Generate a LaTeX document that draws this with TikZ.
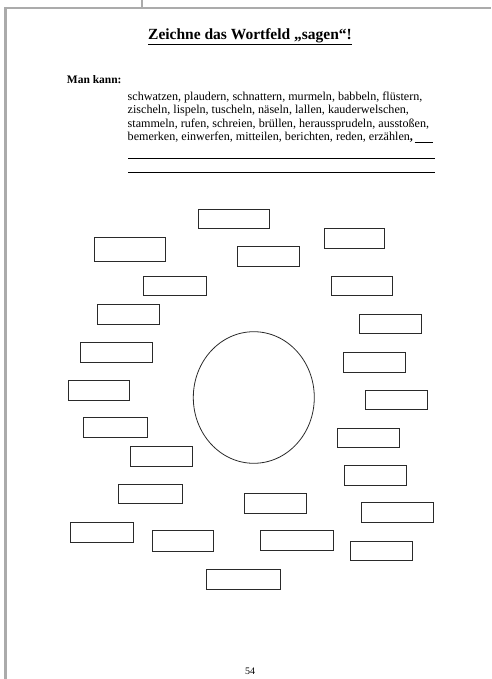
\documentclass[tikz,border=0pt]{standalone}
\usepackage{fontspec}
\setmainfont{Liberation Serif}
\usetikzlibrary{calc,shapes.geometric}
\definecolor{frame}{HTML}{ABABAB}
\definecolor{pen}{HTML}{2A2A2A}
\tikzset{
  frameline/.style={draw=frame, line width=2.3pt},
  wordbox/.style={draw=pen, line width=1pt, inner sep=0pt, outer sep=0pt},
  centreoval/.style={draw=pen, line width=0.8pt, ellipse, inner sep=0pt},
  bodytext/.style={anchor=base west, inner sep=0pt, font=\fontsize{12.1}{13.3}\selectfont},
  ruleline/.style={draw=black, line width=0.6pt},
}
\newcommand\wbox[5]{%
  \node[wordbox, minimum width={(#4-#2)*1pt}, minimum height={(#5-#3)*1pt}]
    (#1) at ({(#2+#4)/2},{(#3+#5)/2}) {};}
\begin{document}
\begin{tikzpicture}[x=1pt,y=-1pt]
\useasboundingbox (0,0) rectangle (491,679);
% page frame
\draw[frameline] (5.5,8) -- (491,8);
\draw[frameline] (5.5,7) -- (5.5,679);
\draw[frameline, line width=2pt] (142,0) -- (142,8);
% title
\node[anchor=base, inner sep=0pt, font=\fontsize{15.5}{18}\selectfont\bfseries] (title) at (250,39.3)
  {\underline{Zeichne das Wortfeld „sagen“!}};
\node[anchor=base west, inner sep=0pt, font=\fontsize{11.5}{13}\selectfont\bfseries] (mankann) at (66.7,84) {Man kann:};
% word list
\node[bodytext] (l1) at (127.5,100.7) {schwatzen, plaudern, schnattern, murmeln, babbeln, flüstern,};
\node[bodytext] (l2) at (127.5,114.0) {zischeln, lispeln, tuscheln, näseln, lallen, kauderwelschen,};
\node[bodytext] (l3) at (127.5,127.3) {stammeln, rufen, schreien, brüllen, heraussprudeln, ausstoßen,};
\node[bodytext] (l4) at (127.5,140.6) {bemerken, einwerfen, mitteilen, berichten, reden, erzählen\textbf{,}};
\coordinate (rend) at (433,0);
\draw[ruleline] ($(l4.base east)+(1.5,1.5)$) -- ($(l4.base east -| rend)+(0,1.5)$);
\draw[ruleline] (128,158) -- (435,158);
\draw[ruleline] (128,172) -- (435,172);
% centre oval
\node[centreoval, minimum width=121pt, minimum height=131.6pt] (centre) at (253.8,397.5) {};
% word boxes
\wbox{bA}{198}{209}{269}{228}
\wbox{bB}{94}{237}{165}{261}
\wbox{bC}{324}{228}{384}{248}
\wbox{bD}{237}{246}{299}{266}
\wbox{bE}{143}{276}{206}{295}
\wbox{bF}{331}{276}{392}{295}
\wbox{bG}{97}{304}{159}{324}
\wbox{bH}{359}{314}{421}{333}
\wbox{bI}{80}{342}{152}{362}
\wbox{bJ}{343}{352}{405}{372}
\wbox{bK}{68}{380}{129}{400}
\wbox{bL}{365}{390}{427}{409}
\wbox{bM}{83}{417}{147}{437}
\wbox{bN}{337}{428}{399}{447}
\wbox{bO}{130}{446}{192}{466}
\wbox{bP}{344}{465}{406}{485}
\wbox{bQ}{118}{484}{182}{503}
\wbox{bR}{244}{493}{306}{513}
\wbox{bS}{361}{502}{433}{522}
\wbox{bT}{70}{522}{133}{542}
\wbox{bU}{152}{530}{213}{551}
\wbox{bV}{260}{530}{333}{550}
\wbox{bW}{350}{541}{412}{560}
\wbox{bX}{206}{569}{280}{589}
% page number
\node[anchor=base, inner sep=0pt, font=\fontsize{10}{12}\selectfont] (pagenum) at (250,674) {54};
\end{tikzpicture}
\end{document}
